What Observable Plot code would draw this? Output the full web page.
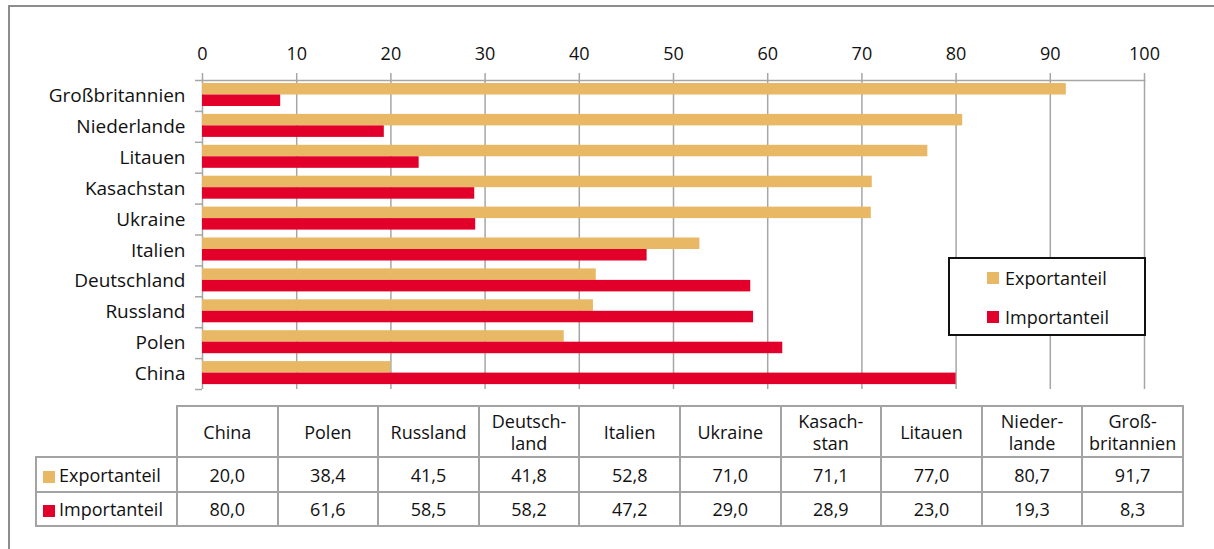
<!DOCTYPE html>
<html>
<head>
<meta charset="utf-8">
<script src="https://cdn.jsdelivr.net/npm/d3@7"></script>
<script src="https://cdn.jsdelivr.net/npm/@observablehq/plot@0.6"></script>
<style>
  html, body { margin: 0; padding: 0; background: #fff; }
  body { font-family: "Open Sans", sans-serif; color: #111; }
  #wrap { position: relative; width: 1214px; height: 549px; overflow: hidden; }
  #frame { position: absolute; left: 8px; top: 5px; width: 1400px; height: 700px;
           border-left: 2px solid #8c8c8c; border-top: 2px solid #8c8c8c; box-sizing: border-box; }
  #chart { position: absolute; left: 0; top: 0; }
  #legend { position: absolute; left: 948px; top: 257px; width: 198px; height: 79px;
            border: 2px solid #111; box-sizing: border-box; background: #fff; font-size: 18px; }
  #legend .item { position: absolute; left: 37px; display: flex; align-items: center; }
  #legend .sw { width: 12px; height: 12px; margin-right: 6px; }
  #table { position: absolute; left: 35px; top: 405px; border-collapse: collapse; table-layout: fixed;
           width: 1147px; font-size: 18px; }
  #table td { border: 2px solid #a3a3a3; text-align: center; padding: 0; line-height: 22px; overflow: hidden; }
  #table td.corner { border-top: none; border-left: none; }
  #table td.lab { text-align: left; padding-left: 6px; white-space: nowrap; }
  #table .sw { display: inline-block; width: 12px; height: 12px; margin-right: 4px; vertical-align: -1px; }
</style>
</head>
<body>
<div id="wrap">
  <div id="frame"></div>
  <div id="chart"></div>
  <div id="legend"></div>
  <table id="table"></table>
</div>
<script>
// ---- data ----
const countries = ["China", "Polen", "Russland", "Deutschland", "Italien", "Ukraine", "Kasachstan", "Litauen", "Niederlande", "Großbritannien"];
const tableHeaders = ["China", "Polen", "Russland", "Deutsch-\nland", "Italien", "Ukraine", "Kasach-\nstan", "Litauen", "Nieder-\nlande", "Groß-\nbritannien"];
const exportShare = [20.0, 38.4, 41.5, 41.8, 52.8, 71.0, 71.1, 77.0, 80.7, 91.7];
const importShare = [80.0, 61.6, 58.5, 58.2, 47.2, 29.0, 28.9, 23.0, 19.3, 8.3];
const seriesNames = ["Exportanteil", "Importanteil"];
const xTicks = [0, 10, 20, 30, 40, 50, 60, 70, 80, 90, 100];

const colors = {Exportanteil: "#e8b865", Importanteil: "#e2002b"};
const gray = "#a6a6a6";

const exportRows = countries.map((c, i) => ({country: c, value: exportShare[i]}));
const importRows = countries.map((c, i) => ({country: c, value: importShare[i]}));

const height = 395, marginTop = 80, marginBottom = 6;
const bw = (height - marginTop - marginBottom) / countries.length;
const yDomain = countries.slice().reverse();

const plot = Plot.plot({
  width: 1214,
  height,
  marginLeft: 202,
  marginRight: 70,
  marginTop,
  marginBottom,
  style: {fontFamily: "Open Sans, sans-serif", fontSize: "18px", color: "#111", background: "transparent"},
  x: {domain: [0, 100], axis: null, label: null},
  y: {domain: yDomain, padding: 0, round: false, axis: null, label: null},
  marks: [
    Plot.gridX(xTicks, {stroke: gray, strokeOpacity: 1, strokeWidth: 1.5}),
    Plot.frame({anchor: "top", stroke: gray, strokeWidth: 1.5}),
    Plot.barX(exportRows, {x: "value", y: "country", fill: colors.Exportanteil, insetTop: 3, insetBottom: bw - 14.5}),
    Plot.barX(importRows, {x: "value", y: "country", fill: colors.Importanteil, insetTop: 14.5, insetBottom: bw - 26}),
    Plot.axisX({anchor: "top", ticks: xTicks, label: null, tickSize: 8, tickPadding: 13, stroke: gray, strokeWidth: 1.5, fill: "#111", fontSize: 18}),
    Plot.axisY({anchor: "left", label: null, tickSize: 0, tickPadding: 17, fill: "#111", fontSize: 19}),
    Plot.axisY({anchor: "left", label: null, tickSize: 7, tickFormat: () => "", dy: -bw / 2, stroke: gray, strokeWidth: 1.5}),
    Plot.axisY({anchor: "left", label: null, ticks: [countries[0]], tickSize: 7, tickFormat: () => "", dy: bw / 2, stroke: gray, strokeWidth: 1.5})
  ]
});
document.getElementById("chart").appendChild(plot);

// ---- legend ----
const legend = document.getElementById("legend");
seriesNames.forEach((s, i) => {
  const item = document.createElement("div");
  item.className = "item";
  item.style.top = (i === 0 ? 6 : 45) + "px";
  item.style.height = "26px";
  item.innerHTML = `<span class="sw" style="background:${colors[s]}"></span><span>${s}</span>`;
  legend.appendChild(item);
});

// ---- table ----
const table = document.getElementById("table");
let html = `<colgroup><col style="width:141px">` + tableHeaders.map(() => `<col style="width:100.6px">`).join("") + `</colgroup>`;
html += `<tr style="height:51px"><td class="corner"></td>`;
tableHeaders.forEach(h => { html += `<td>${h.replace("\n", "<br>")}</td>`; });
html += `</tr>`;
const fmt = v => v.toFixed(1).replace(".", ",");
[[seriesNames[0], exportShare, 35], [seriesNames[1], importShare, 34]].forEach(([name, vals, h]) => {
  html += `<tr style="height:${h}px"><td class="lab"><span class="sw" style="background:${colors[name]}"></span>${name}</td>`;
  vals.forEach(v => { html += `<td>${fmt(v)}</td>`; });
  html += `</tr>`;
});
table.innerHTML = html;
</script>
</body>
</html>
